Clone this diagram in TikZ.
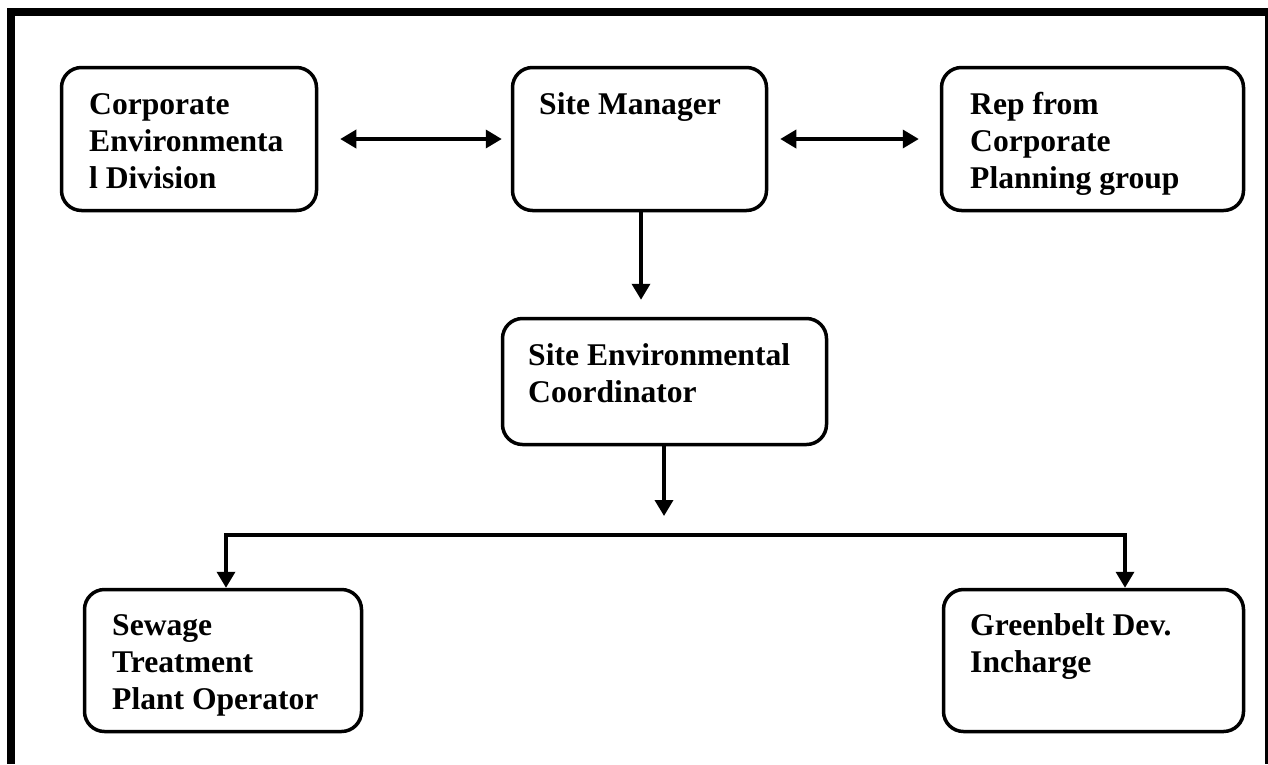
\documentclass[tikz,border=0pt]{standalone}
\usepackage{fontspec}
\setmainfont{Liberation Serif}
\usetikzlibrary{arrows.meta,calc}
\tikzset{
  box/.style={draw, line width=3.5pt, rounded corners=20pt, inner sep=0pt},
  lbl/.style={anchor=base west, align=left, inner sep=0pt, font=\fontsize{31.6}{37}\selectfont\bfseries},
  conn/.style={line width=3.5pt},
  tip/.tip={Triangle[length=16pt,width=18pt]},
  arr/.style={conn, -tip},
  darr/.style={conn, tip-tip},
  frame/.style={line width=8pt}
}
\begin{document}
\begin{tikzpicture}[x=1pt,y=-1pt]
\useasboundingbox (0,0) rectangle (1268,764);
% outer frame
\draw[frame] (7,12) -- (1268,12);
\draw[frame] (11,8) -- (11,764);
\draw[line width=3pt] (1266,12) -- (1266,764);
% boxes
\node[box, minimum width=255pt, minimum height=143pt] (ced) at (189,139) {};
\node[box, minimum width=254pt, minimum height=143pt] (sm) at (639.5,139) {};
\node[box, minimum width=302pt, minimum height=143pt] (rep) at (1092.5,139) {};
\node[box, minimum width=324pt, minimum height=126pt] (sec) at (664.5,381.5) {};
\node[box, minimum width=277pt, minimum height=142pt] (sto) at (223,660.5) {};
\node[box, minimum width=300pt, minimum height=142pt] (gbd) at (1093.5,660.5) {};
% labels (base anchor = baseline of last line)
\node[lbl] (tced) at (89,188) {Corporate\\Environmenta\\l Division};
\node[lbl] (tsm) at (539,114) {Site Manager};
\node[lbl] (trep) at (970,188) {Rep from\\Corporate\\Planning group};
\node[lbl] (tsec) at (528,402) {Site Environmental\\Coordinator};
\node[lbl] (tsto) at (112,709) {Sewage\\Treatment\\Plant Operator};
\node[lbl] (tgbd) at (970,672) {Greenbelt Dev.\\Incharge};
% connectors
\draw[darr] ([xshift=22pt]ced.east) -- ([xshift=-9pt]sm.west);
\draw[darr] ([xshift=12pt]sm.east) -- ([xshift=-21pt]rep.west);
\draw[arr] ([xshift=1.5pt]sm.south) -- ($([xshift=1.5pt]sm.south |- sec.north)+(0,-17)$);
\coordinate (mid) at (664,446);
\coordinate (bl) at (226,535);
\coordinate (br) at (1125,535);
\draw[arr] (mid) -- ($(mid |- bl)+(0,-19)$);
\draw[conn, line cap=rect] (bl) -- (br);
\draw[arr] (bl) -- (bl |- sto.north);
\draw[arr] (br) -- (br |- gbd.north);
\end{tikzpicture}
\end{document}
